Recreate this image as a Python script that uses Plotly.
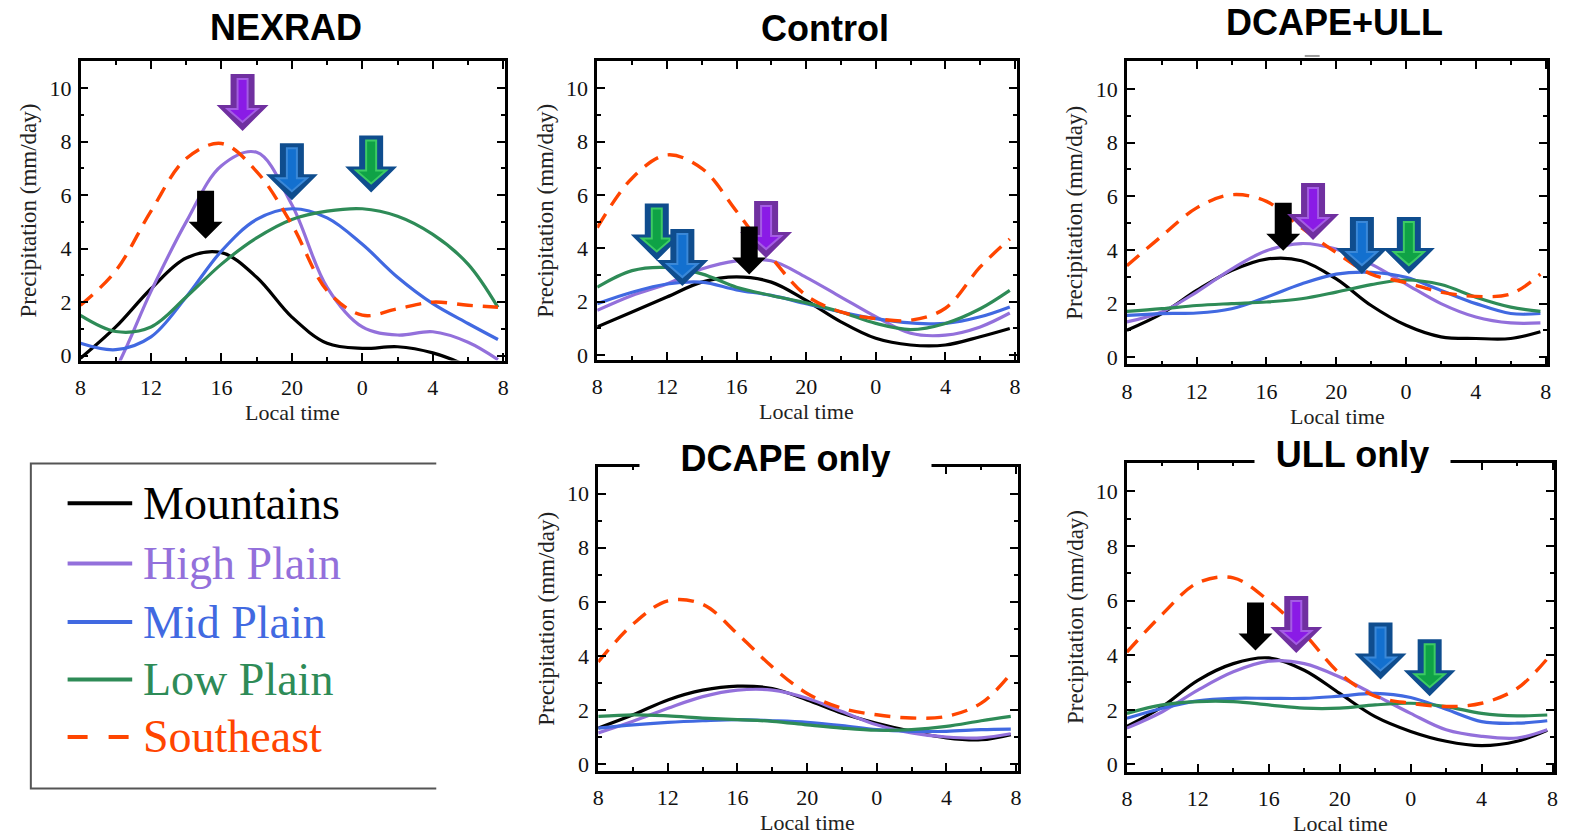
import plotly.graph_objects as go

W, H = 1585, 839

# ---------------- data ----------------
hours = [8, 10, 12, 14, 16, 18, 20, 22, 24, 26, 28, 30, 31.7]
x_tick_vals = [8, 12, 16, 20, 24, 28, 32]
x_tick_text = ["8", "12", "16", "20", "0", "4", "8"]
x_minor_vals = [10, 14, 18, 22, 26, 30]
y_tick_vals = [0, 2, 4, 6, 8, 10]
y_minor_vals = [1, 3, 5, 7, 9]
series_names = ["Mountains", "High Plain", "Mid Plain", "Low Plain", "Southeast"]
panel_titles = ["NEXRAD", "Control", "DCAPE+ULL", "DCAPE only", "ULL only"]

nexrad_mountains = [-0.1, 1.07, 2.5, 3.65, 3.85, 2.93, 1.44, 0.46, 0.27, 0.33, 0.1, -0.4, -1.0]
nexrad_high_plain = [-2.5, -0.5, 2.4, 5.0, 7.1, 7.6, 5.64, 2.55, 1.07, 0.77, 0.89, 0.5, -0.15]
nexrad_mid_plain = [0.46, 0.22, 0.7, 2.19, 3.91, 5.09, 5.49, 5.15, 4.16, 2.93, 1.94, 1.2, 0.6]
nexrad_low_plain = [1.5, 0.9, 1.07, 2.19, 3.42, 4.4, 5.09, 5.4, 5.49, 5.21, 4.53, 3.42, 1.8]
nexrad_southeast = [1.88, 3.17, 5.4, 7.37, 7.93, 6.88, 4.9, 2.43, 1.51, 1.75, 2.0, 1.88, 1.81]

control_mountains = [1.05, 1.61, 2.17, 2.73, 2.93, 2.73, 2.04, 1.24, 0.62, 0.37, 0.37, 0.68, 0.99]
control_high_plain = [1.67, 2.23, 2.66, 3.22, 3.53, 3.53, 2.91, 2.17, 1.43, 0.81, 0.74, 1.05, 1.57]
control_mid_plain = [1.92, 2.35, 2.66, 2.73, 2.44, 2.23, 1.92, 1.61, 1.36, 1.2, 1.18, 1.43, 1.8]
control_low_plain = [2.54, 3.16, 3.28, 3.04, 2.54, 2.23, 1.95, 1.61, 1.18, 0.95, 1.18, 1.73, 2.42]
control_southeast = [4.77, 6.63, 7.5, 7.0, 5.39, 3.66, 2.23, 1.61, 1.36, 1.3, 1.75, 3.3, 4.35]

dcull_mountains = [1.01, 1.63, 2.49, 3.23, 3.66, 3.6, 2.92, 1.93, 1.19, 0.76, 0.7, 0.7, 0.95]
dcull_high_plain = [1.32, 1.69, 2.43, 3.29, 3.97, 4.24, 4.03, 3.47, 2.73, 2.0, 1.5, 1.28, 1.28]
dcull_mid_plain = [1.56, 1.63, 1.65, 1.81, 2.24, 2.73, 3.1, 3.17, 2.98, 2.49, 2.0, 1.63, 1.63]
dcull_low_plain = [1.71, 1.81, 1.93, 2.0, 2.06, 2.18, 2.43, 2.71, 2.88, 2.71, 2.24, 1.87, 1.71]
dcull_southeast = [3.41, 4.52, 5.57, 6.06, 5.81, 4.83, 3.9, 3.1, 2.78, 2.43, 2.27, 2.36, 3.1]

dcape_mountains = [1.34, 1.83, 2.38, 2.74, 2.89, 2.8, 2.38, 1.89, 1.52, 1.22, 0.98, 0.91, 1.1]
dcape_high_plain = [1.16, 1.59, 2.07, 2.5, 2.74, 2.74, 2.44, 1.95, 1.46, 1.16, 1.01, 0.98, 1.13]
dcape_mid_plain = [1.34, 1.46, 1.55, 1.61, 1.65, 1.61, 1.55, 1.43, 1.28, 1.22, 1.22, 1.28, 1.3]
dcape_low_plain = [1.77, 1.83, 1.79, 1.71, 1.65, 1.59, 1.46, 1.34, 1.26, 1.28, 1.4, 1.61, 1.77]
dcape_southeast = [3.78, 5.18, 6.04, 5.91, 4.82, 3.6, 2.62, 2.07, 1.83, 1.71, 1.77, 2.26, 3.35]

ull_mountains = [1.39, 2.12, 3.08, 3.69, 3.9, 3.45, 2.6, 1.75, 1.21, 0.85, 0.69, 0.85, 1.25]
ull_high_plain = [1.33, 1.93, 2.72, 3.39, 3.78, 3.69, 3.2, 2.54, 1.87, 1.27, 1.03, 0.97, 1.27]
ull_mid_plain = [1.69, 2.06, 2.33, 2.42, 2.42, 2.42, 2.5, 2.6, 2.45, 2.02, 1.57, 1.51, 1.6]
ull_low_plain = [1.87, 2.18, 2.3, 2.3, 2.18, 2.06, 2.06, 2.18, 2.24, 2.12, 1.87, 1.78, 1.81]
ull_southeast = [4.11, 5.5, 6.65, 6.83, 5.99, 4.78, 3.33, 2.5, 2.24, 2.12, 2.24, 2.78, 3.87]

# peak-time arrows (region, local hour, value at arrow tip)
nexrad_arrow_region = ["Mountains", "High Plain", "Mid Plain", "Low Plain"]
nexrad_arrow_hour = [15.1, 17.2, 20.0, 24.5]
nexrad_arrow_value = [4.37, 8.4, 5.81, 6.1]

control_arrow_region = ["Low Plain", "Mid Plain", "High Plain", "Mountains"]
control_arrow_hour = [11.42, 12.89, 17.7, 16.73]
control_arrow_value = [3.54, 2.58, 3.63, 3.02]

dcull_arrow_region = ["Mountains", "High Plain", "Mid Plain", "Low Plain"]
dcull_arrow_hour = [16.96, 18.67, 21.47, 24.16]
dcull_arrow_value = [3.97, 4.37, 3.1, 3.1]

dcape_arrow_region = []
dcape_arrow_hour = []
dcape_arrow_value = []

ull_arrow_region = ["Mountains", "High Plain", "Mid Plain", "Low Plain"]
ull_arrow_hour = [15.25, 17.55, 22.3, 25.07]
ull_arrow_value = [4.17, 4.08, 3.11, 2.5]

# ---------------- styles ----------------
colors = {"Mountains": "#000000", "High Plain": "#9370DB", "Mid Plain": "#4169E1",
          "Low Plain": "#2E8B57", "Southeast": "#FF4500"}
arrow_colors = {
    "High Plain": ("#7030A0", "#8A1BE6", "#A45CE4"),
    "Mid Plain": ("#0F4D8E", "#1370CF", "#3A88D8"),
    "Low Plain": ("#0F4D8E", "#0FA246", "#3CCB63"),
}
SERIF = "Liberation Serif, Times New Roman, serif"
SANS = "Liberation Sans, Arial, sans-serif"

panels = [
    dict(title=panel_titles[0], box=(75, 502, 62, 364), yr=[-0.185, 11.0],
         data=[nexrad_mountains, nexrad_high_plain, nexrad_mid_plain, nexrad_low_plain, nexrad_southeast],
         arrows=(nexrad_arrow_region, nexrad_arrow_hour, nexrad_arrow_value),
         tpos=(282, 28), tbox=None),
    dict(title=panel_titles[1], box=(595, 1017, 62, 363), yr=[-0.175, 11.01],
         data=[control_mountains, control_high_plain, control_mid_plain, control_low_plain, control_southeast],
         arrows=(control_arrow_region, control_arrow_hour, control_arrow_value),
         tpos=(824, 29), tbox=None),
    dict(title=panel_titles[2], box=(1128, 1551, 62, 368), yr=[-0.27, 11.03],
         data=[dcull_mountains, dcull_high_plain, dcull_mid_plain, dcull_low_plain, dcull_southeast],
         arrows=(dcull_arrow_region, dcull_arrow_hour, dcull_arrow_value),
         tpos=(1337, 23), tbox=None),
    dict(title=panel_titles[3], box=(596, 1018, 471, 778), yr=[-0.23, 11.0],
         data=[dcape_mountains, dcape_high_plain, dcape_mid_plain, dcape_low_plain, dcape_southeast],
         arrows=(dcape_arrow_region, dcape_arrow_hour, dcape_arrow_value),
         tpos=(784, 462), tbox=(291, 38)),
    dict(title=panel_titles[4], box=(1128, 1558, 467, 779), yr=[-0.26, 11.05],
         data=[ull_mountains, ull_high_plain, ull_mid_plain, ull_low_plain, ull_southeast],
         arrows=(ull_arrow_region, ull_arrow_hour, ull_arrow_value),
         tpos=(1355, 458), tbox=(195, 38)),
]


def px_x(v):
    return v / W


def px_y(v):
    return 1 - v / H


def arrow_path(shaft, head, height, head_h, tip=0.0, top=None):
    top = height if top is None else top
    pts = [(-shaft / 2, top), (shaft / 2, top), (shaft / 2, head_h), (head / 2, head_h),
           (0, tip), (-head / 2, head_h), (-shaft / 2, head_h)]
    return "M " + " L ".join(f"{x:.1f},{y:.1f}" for x, y in pts) + " Z"


fig = go.Figure()
shapes = []
annotations = []
layout_axes = {}

for i, p in enumerate(panels):
    n = "" if i == 0 else str(i + 1)
    xa, ya = "x" + n, "y" + n
    left, right, top, bottom = p["box"]
    for name, vals in zip(series_names, p["data"]):
        fig.add_trace(go.Scatter(
            x=hours, y=vals, mode="lines", name=name, showlegend=False,
            xaxis=xa, yaxis=ya,
            line=dict(color=colors[name], width=3.4 if name == "Southeast" else 3.2,
                      shape="spline", smoothing=1.0,
                      dash="16px,10px" if name == "Southeast" else "solid"),
            hoverinfo="skip"))
    common = dict(showline=True, linewidth=2.5, linecolor="black", mirror="allticks",
                  ticks="inside", ticklen=8, tickwidth=2, tickcolor="black",
                  showgrid=False, zeroline=False, fixedrange=True,
                  tickfont=dict(family=SERIF, size=22, color="#111"))
    layout_axes["xaxis" + n] = dict(
        common, domain=[px_x(left), px_x(right)], anchor=ya, range=[8, 32.09],
        tickmode="array", tickvals=x_tick_vals, ticktext=x_tick_text, ticklabelstandoff=5,
        minor=dict(tickmode="array", tickvals=x_minor_vals, ticks="inside", ticklen=4,
                   tickwidth=2, tickcolor="black", showgrid=False))
    layout_axes["yaxis" + n] = dict(
        common, domain=[px_y(bottom), px_y(top)], anchor=xa, range=p["yr"],
        tickmode="array", tickvals=y_tick_vals, ticklabelstandoff=2,
        minor=dict(tickmode="array", tickvals=y_minor_vals, ticks="inside", ticklen=4,
                   tickwidth=2, tickcolor="black", showgrid=False))

    # axis titles
    annotations.append(dict(text="Precipitation (mm/day)", textangle=-90,
                            xref=xa + " domain", yref=ya + " domain", x=0, y=0.5,
                            xshift=-52, xanchor="center", yanchor="middle", showarrow=False,
                            font=dict(family=SERIF, size=23, color="#222")))
    annotations.append(dict(text="Local time", xref=xa + " domain", yref=ya + " domain",
                            x=0.5, y=0, yshift=-52, xanchor="center", yanchor="middle",
                            showarrow=False, font=dict(family=SERIF, size=22, color="#222")))
    # panel title
    tx, ty = p["tpos"]
    t = dict(text="<b>" + p["title"] + "</b>", xref="paper", yref="paper",
             x=px_x(tx), y=px_y(ty), xanchor="center", yanchor="middle", showarrow=False,
             font=dict(family=SANS, size=36, color="black"))
    if p["tbox"]:
        t.update(bgcolor="white", width=p["tbox"][0], height=p["tbox"][1], borderpad=0)
    annotations.append(t)

    # arrows
    regs, hrs, vals = p["arrows"]
    for reg, hr, v in zip(regs, hrs, vals):
        base = dict(type="path", xref=xa, yref=ya, xsizemode="pixel", ysizemode="pixel",
                    xanchor=hr, yanchor=v, layer="above")
        if reg == "Mountains":
            shapes.append(dict(base, path=arrow_path(17, 34, 48, 17),
                               fillcolor="black", line=dict(width=0)))
        else:
            outer, inner, edge = arrow_colors[reg]
            shapes.append(dict(base, path=arrow_path(24, 52, 57, 26),
                               fillcolor=outer, line=dict(width=0)))
            shapes.append(dict(base, path=arrow_path(10, 30, 57, 22, tip=9, top=52),
                               fillcolor=inner, line=dict(color=edge, width=2)))

# small dash above DCAPE+ULL frame
shapes.append(dict(type="line", xref="paper", yref="paper", x0=px_x(1307), x1=px_x(1322),
                   y0=px_y(56.5), y1=px_y(56.5), line=dict(color="#9a9a9a", width=2)))

# legend box (open on the right)
lg_left, lg_right, lg_top, lg_bottom = 25, 433, 468, 796
shapes.append(dict(type="path", xref="paper", yref="paper",
                   path=f"M {px_x(lg_right)},{px_y(lg_top)} L {px_x(lg_left)},{px_y(lg_top)} "
                        f"L {px_x(lg_left)},{px_y(lg_bottom)} L {px_x(lg_right)},{px_y(lg_bottom)}",
                   line=dict(color="#555555", width=2)))
legend_rows = [508, 569, 628, 686, 744]
for name, ry in zip(series_names, legend_rows):
    shapes.append(dict(type="line", xref="paper", yref="paper", x0=px_x(62), x1=px_x(127),
                       y0=px_y(ry), y1=px_y(ry),
                       line=dict(color=colors[name], width=4,
                                 dash="20px,21px" if name == "Southeast" else "solid")))
    annotations.append(dict(text=name, xref="paper", yref="paper", x=px_x(136), y=px_y(ry),
                            xanchor="left", yanchor="middle", showarrow=False,
                            font=dict(family=SERIF, size=46, color=colors[name])))

fig.update_layout(
    width=W, height=H, margin=dict(l=0, r=0, t=0, b=0),
    paper_bgcolor="white", plot_bgcolor="white", showlegend=False,
    shapes=shapes, annotations=annotations, **layout_axes)

fig.write_html("out.html", config={"displayModeBar": False})
